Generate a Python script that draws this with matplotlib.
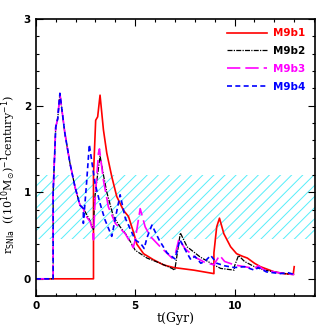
import numpy as np
import matplotlib
matplotlib.use("Agg")
import matplotlib.pyplot as plt
from matplotlib.ticker import MultipleLocator

# --- data ------------------------------------------------------------------
t_b1 = [0.0, 2.9, 2.9, 3.01, 3.11, 3.23, 3.4, 3.57, 3.82, 4.07, 4.41, 4.66,
        4.91, 5.08, 5.42, 5.92, 6.43, 6.94, 7.95, 8.96, 8.96, 9.1, 9.24, 9.46,
        9.8, 10.1, 10.4, 10.64, 11.0, 11.3, 12.0, 12.5, 12.95, 13.0]
r_b1 = [0.0, 0.0, 1.2, 1.83, 1.87, 2.12, 1.72, 1.45, 1.18, 0.95, 0.79, 0.72,
        0.54, 0.4, 0.29, 0.22, 0.16, 0.13, 0.10, 0.06, 0.3, 0.6, 0.70, 0.52,
        0.37, 0.29, 0.26, 0.24, 0.18, 0.14, 0.08, 0.06, 0.05, 0.14]

t_b2 = [0.0, 0.87, 0.87, 1.0, 1.1, 1.21, 1.46, 1.72, 1.97, 2.22, 2.39, 2.56,
        2.75, 2.9, 2.95, 3.05, 3.23, 3.4, 3.57, 3.9, 4.24, 4.58, 5.0, 5.59,
        6.26, 6.85, 6.99, 7.27, 7.61, 8.28, 8.96, 9.3, 9.98, 10.0, 10.2, 10.5,
        11.0, 11.5, 12.0, 12.5, 13.0]
r_b2 = [0.0, 0.0, 1.0, 1.75, 1.85, 2.14, 1.68, 1.33, 1.06, 0.85, 0.81, 0.74,
        0.66, 0.57, 0.9, 1.1, 1.42, 1.2, 1.0, 0.72, 0.6, 0.5, 0.33, 0.24,
        0.18, 0.12, 0.1, 0.53, 0.37, 0.25, 0.16, 0.12, 0.1, 0.15, 0.27, 0.2,
        0.14, 0.1, 0.08, 0.06, 0.05]

t_b3 = [0.0, 0.87, 0.87, 1.0, 1.1, 1.21, 1.46, 1.72, 1.97, 2.22, 2.39, 2.47,
        2.73, 2.86, 2.9, 2.98, 3.15, 3.2, 3.4, 3.65, 4.0, 4.5, 4.9, 5.0, 5.25,
        5.5, 5.76, 6.26, 6.85, 6.99, 7.2, 7.5, 8.0, 8.5, 8.98, 9.0, 9.25, 9.5,
        10.0, 10.5, 11.0, 11.2, 11.5, 12.0, 12.5, 13.0]
r_b3 = [0.0, 0.0, 1.0, 1.75, 1.85, 2.14, 1.68, 1.33, 1.06, 0.85, 0.81, 0.74,
        0.66, 0.56, 0.45, 0.91, 1.45, 1.5, 1.14, 0.83, 0.64, 0.52, 0.36, 0.45,
        0.81, 0.6, 0.49, 0.37, 0.24, 0.26, 0.46, 0.35, 0.25, 0.19, 0.16, 0.18,
        0.27, 0.2, 0.16, 0.14, 0.12, 0.15, 0.1, 0.08, 0.06, 0.05]

t_b4 = [0.0, 0.87, 0.87, 1.0, 1.1, 1.21, 1.46, 1.72, 1.97, 2.22, 2.39, 2.39,
        2.55, 2.69, 2.85, 2.98, 3.23, 3.48, 3.82, 4.0, 4.24, 4.5, 4.8, 5.0,
        5.3, 5.45, 5.6, 5.84, 6.2, 6.6, 7.0, 7.25, 7.6, 7.8, 8.0, 8.3, 8.5,
        8.8, 9.1, 9.5, 10.0, 10.5, 11.0, 11.2, 11.6, 12.3, 12.7, 13.0]
r_b4 = [0.0, 0.0, 1.0, 1.75, 1.85, 2.14, 1.68, 1.33, 1.06, 0.85, 0.81, 0.64,
        1.1, 1.55, 1.3, 1.1, 0.87, 0.68, 0.49, 0.7, 0.97, 0.7, 0.55, 0.45,
        0.4, 0.35, 0.48, 0.62, 0.45, 0.3, 0.23, 0.45, 0.3, 0.22, 0.26, 0.18,
        0.2, 0.27, 0.18, 0.15, 0.13, 0.14, 0.1, 0.13, 0.08, 0.06, 0.07, 0.05]

band = (0.46, 1.2)

labels = ["M9b1", "M9b2", "M9b3", "M9b4"]
colors = ["#ff0000", "#000000", "#ff00ff", "#0000ff"]

# --- figure ----------------------------------------------------------------
plt.rcParams["hatch.linewidth"] = 0.7
fig = plt.figure(figsize=(3.32, 3.32), dpi=100)
ax = fig.add_axes([0.108, 0.108, 0.841, 0.835])

ax.axhspan(*band, facecolor="none", edgecolor="#55eefa", hatch="///",
           linewidth=0)

ax.plot(t_b1, r_b1, color=colors[0], lw=1.2, ls="-", label=labels[0])
ax.plot(t_b2, r_b2, color=colors[1], lw=0.9, ls=(0, (4, 1, 1, 1)),
        label=labels[1])
ax.plot(t_b3, r_b3, color=colors[2], lw=1.2, ls=(0, (8, 3)), label=labels[2])
ax.plot(t_b4, r_b4, color=colors[3], lw=1.2, ls=(0, (3, 2)), label=labels[3])

ax.set_xlim(0, 14.05)
ax.set_ylim(-0.2, 3)
ax.xaxis.set_major_locator(MultipleLocator(5))
ax.xaxis.set_minor_locator(MultipleLocator(1))
ax.yaxis.set_major_locator(MultipleLocator(1))
ax.yaxis.set_minor_locator(MultipleLocator(0.2))
ax.tick_params(which="both", direction="in", top=True, right=True,
               labelsize=7.5, width=0.8)
ax.tick_params(which="major", length=5)
ax.tick_params(which="minor", length=2.5)
for lab in ax.get_xticklabels() + ax.get_yticklabels():
    lab.set_fontweight("bold")
for s in ax.spines.values():
    s.set_linewidth(1.2)

ax.set_xlabel("t(Gyr)", family="DejaVu Serif", fontsize=9, labelpad=1)
ax.set_ylabel(r"r$_{\mathrm{SNIa}}$  ((10$^{10}$M$_{\odot}$)$^{-1}$century$^{-1}$)",
              family="DejaVu Serif", fontsize=8, labelpad=2)
ax.yaxis.set_label_coords(-0.065, 0.44)

leg = ax.legend(loc="upper right", frameon=False, handlelength=3.8,
                labelspacing=0.75, borderaxespad=0.5, handletextpad=0.6,
                prop={"weight": "bold", "size": 7.5})
for txt, c in zip(leg.get_texts(), colors):
    txt.set_color(c)

fig.savefig("out.png", dpi=100)
